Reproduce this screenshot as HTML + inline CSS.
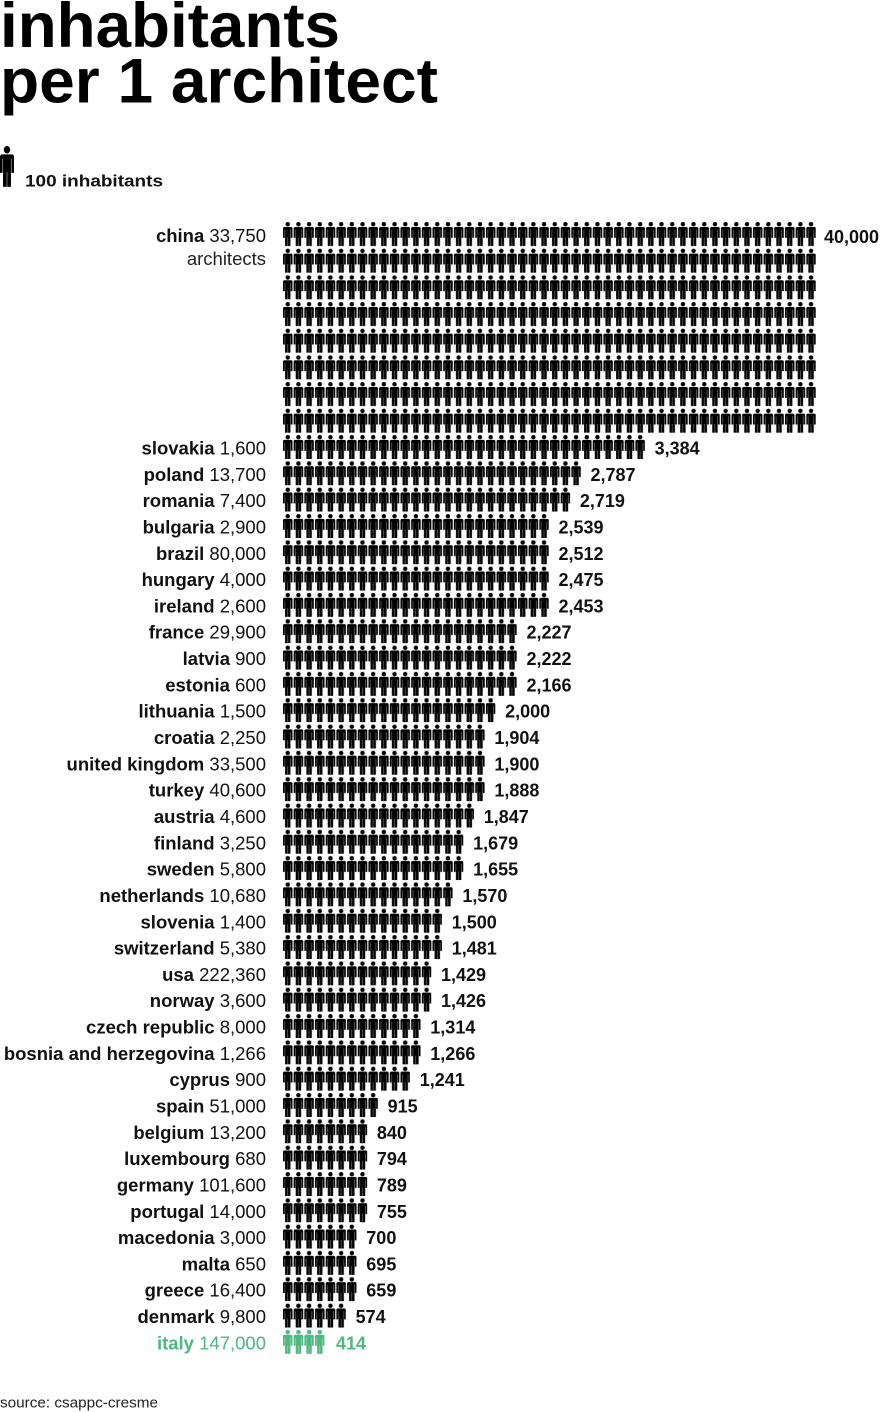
<!DOCTYPE html>
<html>
<head>
<meta charset="utf-8">
<style>
  html,body{margin:0;padding:0;background:#fff;}
  svg{display:block;font-family:"Liberation Sans",Arial,sans-serif;}
  .l{font-size:18.5px;fill:#111;}
  .b{font-weight:bold;}
  .n{font-size:18px;font-weight:bold;fill:#111;}
  .g{fill:#4db880;}
</style>
</head>
<body>
<svg width="880" height="1412" viewBox="0 0 880 1412" xmlns="http://www.w3.org/2000/svg">
  <defs>
    <g id="ic">
      <circle cx="4.75" cy="2.2" r="2.2"/>
      <path d="M0,7.6 V6.4 Q0,4.9 1.5,4.9 H8 Q9.5,4.9 9.5,6.4 V7.6 Z"/>
      <rect x="0" y="7.4" width="1.75" height="8.4"/>
      <rect x="7.75" y="7.4" width="1.75" height="8.4"/>
      <rect x="2.05" y="7.4" width="5.4" height="7.9"/>
      <rect x="2.05" y="15" width="2.55" height="9"/>
      <rect x="4.9" y="15" width="2.55" height="9"/>
    </g>
    <pattern id="pb" x="283" y="0" width="10.68" height="24" patternUnits="userSpaceOnUse"><use href="#ic" fill="#000"/></pattern>
    <pattern id="pc" x="283" y="0" width="10.68" height="26.67" patternUnits="userSpaceOnUse"><use href="#ic" fill="#000"/></pattern>
    <pattern id="pg" x="283" y="0" width="10.68" height="24" patternUnits="userSpaceOnUse"><use href="#ic" fill="#4db880"/></pattern>
  </defs>

  <!-- title -->
  <text x="0" y="47" font-size="63" font-weight="bold" fill="#000" textLength="340" lengthAdjust="spacingAndGlyphs">inhabitants</text>
  <text x="0" y="102.5" font-size="63" font-weight="bold" fill="#000" textLength="438" lengthAdjust="spacingAndGlyphs">per 1 architect</text>

  <!-- legend -->
  <use href="#ic" fill="#000" transform="translate(0,146) scale(1.47,1.7)"/>
  <text x="25" y="186.5" font-size="17" font-weight="bold" fill="#111" textLength="138" lengthAdjust="spacingAndGlyphs">100 inhabitants</text>

  <!-- china -->
  <g transform="translate(0,222)">
    <rect x="283" y="0" width="532.82" height="213.36" fill="url(#pc)"/>
    <text class="l" x="266" y="20" text-anchor="end"><tspan class="b">china</tspan> 33,750</text>
    <text class="l" x="266" y="43" text-anchor="end" style="fill:#222">architects</text>
    <text class="n" x="824" y="21">40,000</text>
  </g>

  <g transform="translate(0,435)"><rect x="283" width="361.94" height="24" fill="url(#pb)"/><text class="l" x="266" y="19.5" text-anchor="end"><tspan class="b">slovakia</tspan> 1,600</text><text class="n" x="654.6" y="19.5">3,384</text></g>
  <g transform="translate(0,461.3)"><rect x="283" width="297.86" height="24" fill="url(#pb)"/><text class="l" x="266" y="19.5" text-anchor="end"><tspan class="b">poland</tspan> 13,700</text><text class="n" x="590.5" y="19.5">2,787</text></g>
  <g transform="translate(0,487.6)"><rect x="283" width="287.18" height="24" fill="url(#pb)"/><text class="l" x="266" y="19.5" text-anchor="end"><tspan class="b">romania</tspan> 7,400</text><text class="n" x="579.9" y="19.5">2,719</text></g>
  <g transform="translate(0,514)"><rect x="283" width="265.82" height="24" fill="url(#pb)"/><text class="l" x="266" y="19.5" text-anchor="end"><tspan class="b">bulgaria</tspan> 2,900</text><text class="n" x="558.5" y="19.5">2,539</text></g>
  <g transform="translate(0,540.3)"><rect x="283" width="265.82" height="24" fill="url(#pb)"/><text class="l" x="266" y="19.5" text-anchor="end"><tspan class="b">brazil</tspan> 80,000</text><text class="n" x="558.5" y="19.5">2,512</text></g>
  <g transform="translate(0,566.6)"><rect x="283" width="265.82" height="24" fill="url(#pb)"/><text class="l" x="266" y="19.5" text-anchor="end"><tspan class="b">hungary</tspan> 4,000</text><text class="n" x="558.5" y="19.5">2,475</text></g>
  <g transform="translate(0,592.9)"><rect x="283" width="265.82" height="24" fill="url(#pb)"/><text class="l" x="266" y="19.5" text-anchor="end"><tspan class="b">ireland</tspan> 2,600</text><text class="n" x="558.5" y="19.5">2,453</text></g>
  <g transform="translate(0,619.2)"><rect x="283" width="233.78" height="24" fill="url(#pb)"/><text class="l" x="266" y="19.5" text-anchor="end"><tspan class="b">france</tspan> 29,900</text><text class="n" x="526.5" y="19.5">2,227</text></g>
  <g transform="translate(0,645.6)"><rect x="283" width="233.78" height="24" fill="url(#pb)"/><text class="l" x="266" y="19.5" text-anchor="end"><tspan class="b">latvia</tspan> 900</text><text class="n" x="526.5" y="19.5">2,222</text></g>
  <g transform="translate(0,671.9)"><rect x="283" width="233.78" height="24" fill="url(#pb)"/><text class="l" x="266" y="19.5" text-anchor="end"><tspan class="b">estonia</tspan> 600</text><text class="n" x="526.5" y="19.5">2,166</text></g>
  <g transform="translate(0,698.2)"><rect x="283" width="212.42" height="24" fill="url(#pb)"/><text class="l" x="266" y="19.5" text-anchor="end"><tspan class="b">lithuania</tspan> 1,500</text><text class="n" x="505.1" y="19.5">2,000</text></g>
  <g transform="translate(0,724.5)"><rect x="283" width="201.74" height="24" fill="url(#pb)"/><text class="l" x="266" y="19.5" text-anchor="end"><tspan class="b">croatia</tspan> 2,250</text><text class="n" x="494.4" y="19.5">1,904</text></g>
  <g transform="translate(0,750.8)"><rect x="283" width="201.74" height="24" fill="url(#pb)"/><text class="l" x="266" y="19.5" text-anchor="end"><tspan class="b">united kingdom</tspan> 33,500</text><text class="n" x="494.4" y="19.5">1,900</text></g>
  <g transform="translate(0,777.2)"><rect x="283" width="201.74" height="24" fill="url(#pb)"/><text class="l" x="266" y="19.5" text-anchor="end"><tspan class="b">turkey</tspan> 40,600</text><text class="n" x="494.4" y="19.5">1,888</text></g>
  <g transform="translate(0,803.5)"><rect x="283" width="191.06" height="24" fill="url(#pb)"/><text class="l" x="266" y="19.5" text-anchor="end"><tspan class="b">austria</tspan> 4,600</text><text class="n" x="483.7" y="19.5">1,847</text></g>
  <g transform="translate(0,829.8)"><rect x="283" width="180.38" height="24" fill="url(#pb)"/><text class="l" x="266" y="19.5" text-anchor="end"><tspan class="b">finland</tspan> 3,250</text><text class="n" x="473.1" y="19.5">1,679</text></g>
  <g transform="translate(0,856.1)"><rect x="283" width="180.38" height="24" fill="url(#pb)"/><text class="l" x="266" y="19.5" text-anchor="end"><tspan class="b">sweden</tspan> 5,800</text><text class="n" x="473.1" y="19.5">1,655</text></g>
  <g transform="translate(0,882.4)"><rect x="283" width="169.7" height="24" fill="url(#pb)"/><text class="l" x="266" y="19.5" text-anchor="end"><tspan class="b">netherlands</tspan> 10,680</text><text class="n" x="462.4" y="19.5">1,570</text></g>
  <g transform="translate(0,908.8)"><rect x="283" width="159.02" height="24" fill="url(#pb)"/><text class="l" x="266" y="19.5" text-anchor="end"><tspan class="b">slovenia</tspan> 1,400</text><text class="n" x="451.7" y="19.5">1,500</text></g>
  <g transform="translate(0,935.1)"><rect x="283" width="159.02" height="24" fill="url(#pb)"/><text class="l" x="266" y="19.5" text-anchor="end"><tspan class="b">switzerland</tspan> 5,380</text><text class="n" x="451.7" y="19.5">1,481</text></g>
  <g transform="translate(0,961.4)"><rect x="283" width="148.34" height="24" fill="url(#pb)"/><text class="l" x="266" y="19.5" text-anchor="end"><tspan class="b">usa</tspan> 222,360</text><text class="n" x="441" y="19.5">1,429</text></g>
  <g transform="translate(0,987.7)"><rect x="283" width="148.34" height="24" fill="url(#pb)"/><text class="l" x="266" y="19.5" text-anchor="end"><tspan class="b">norway</tspan> 3,600</text><text class="n" x="441" y="19.5">1,426</text></g>
  <g transform="translate(0,1014)"><rect x="283" width="137.66" height="24" fill="url(#pb)"/><text class="l" x="266" y="19.5" text-anchor="end"><tspan class="b">czech republic</tspan> 8,000</text><text class="n" x="430.3" y="19.5">1,314</text></g>
  <g transform="translate(0,1040.4)"><rect x="283" width="137.66" height="24" fill="url(#pb)"/><text class="l" x="266" y="19.5" text-anchor="end"><tspan class="b">bosnia and herzegovina</tspan> 1,266</text><text class="n" x="430.3" y="19.5">1,266</text></g>
  <g transform="translate(0,1066.7)"><rect x="283" width="126.98" height="24" fill="url(#pb)"/><text class="l" x="266" y="19.5" text-anchor="end"><tspan class="b">cyprus</tspan> 900</text><text class="n" x="419.7" y="19.5">1,241</text></g>
  <g transform="translate(0,1093)"><rect x="283" width="94.94" height="24" fill="url(#pb)"/><text class="l" x="266" y="19.5" text-anchor="end"><tspan class="b">spain</tspan> 51,000</text><text class="n" x="387.6" y="19.5">915</text></g>
  <g transform="translate(0,1119.3)"><rect x="283" width="84.26" height="24" fill="url(#pb)"/><text class="l" x="266" y="19.5" text-anchor="end"><tspan class="b">belgium</tspan> 13,200</text><text class="n" x="376.9" y="19.5">840</text></g>
  <g transform="translate(0,1145.6)"><rect x="283" width="84.26" height="24" fill="url(#pb)"/><text class="l" x="266" y="19.5" text-anchor="end"><tspan class="b">luxembourg</tspan> 680</text><text class="n" x="376.9" y="19.5">794</text></g>
  <g transform="translate(0,1172)"><rect x="283" width="84.26" height="24" fill="url(#pb)"/><text class="l" x="266" y="19.5" text-anchor="end"><tspan class="b">germany</tspan> 101,600</text><text class="n" x="376.9" y="19.5">789</text></g>
  <g transform="translate(0,1198.3)"><rect x="283" width="84.26" height="24" fill="url(#pb)"/><text class="l" x="266" y="19.5" text-anchor="end"><tspan class="b">portugal</tspan> 14,000</text><text class="n" x="376.9" y="19.5">755</text></g>
  <g transform="translate(0,1224.6)"><rect x="283" width="73.58" height="24" fill="url(#pb)"/><text class="l" x="266" y="19.5" text-anchor="end"><tspan class="b">macedonia</tspan> 3,000</text><text class="n" x="366.3" y="19.5">700</text></g>
  <g transform="translate(0,1250.9)"><rect x="283" width="73.58" height="24" fill="url(#pb)"/><text class="l" x="266" y="19.5" text-anchor="end"><tspan class="b">malta</tspan> 650</text><text class="n" x="366.3" y="19.5">695</text></g>
  <g transform="translate(0,1277.2)"><rect x="283" width="73.58" height="24" fill="url(#pb)"/><text class="l" x="266" y="19.5" text-anchor="end"><tspan class="b">greece</tspan> 16,400</text><text class="n" x="366.3" y="19.5">659</text></g>
  <g transform="translate(0,1303.6)"><rect x="283" width="62.9" height="24" fill="url(#pb)"/><text class="l" x="266" y="19.5" text-anchor="end"><tspan class="b">denmark</tspan> 9,800</text><text class="n" x="355.6" y="19.5">574</text></g>
  <g transform="translate(0,1329.9)"><rect x="283" width="41.54" height="24" fill="url(#pg)"/><text class="l g" x="266" y="19.5" text-anchor="end"><tspan class="b">italy</tspan> 147,000</text><text class="n g" x="336" y="19.5">414</text></g>

  <!-- source -->
  <text x="0" y="1407.5" font-size="15" fill="#222" textLength="158" lengthAdjust="spacingAndGlyphs">source: csappc-cresme</text>
</svg>
</body>
</html>
